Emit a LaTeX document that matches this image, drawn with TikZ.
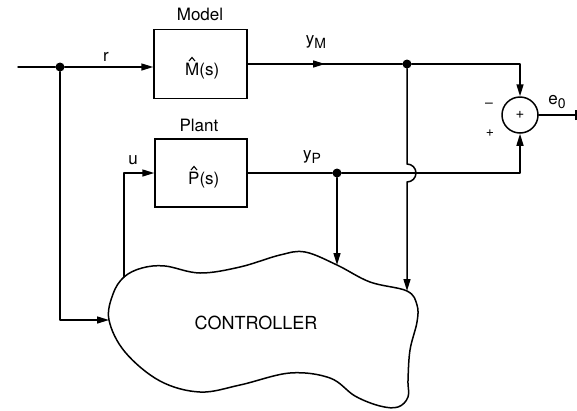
\documentclass[tikz,border=0pt]{standalone}
\usepackage{fontspec}
\setmainfont{TeX Gyre Heros}
\usetikzlibrary{arrows.meta,decorations.markings}
\newcommand{\sbs}[1]{\raisebox{-0.5ex}{\fontsize{14}{14}\selectfont #1}}
\tikzset{
  wire/.style={line width=1.5pt, line cap=round, line join=round},
  arr/.style={wire, -{Triangle[length=12pt,width=7pt]}},
  blockbox/.style={draw, line width=1.5pt, minimum width=93pt, minimum height=69pt, inner sep=0pt},
  junc/.style={circle, fill, inner sep=0pt, minimum size=9pt},
  sumnode/.style={circle, draw, line width=1.5pt, minimum size=36pt, inner sep=0pt, font=\fontsize{15}{15}\selectfont},
  lbl/.style={inner sep=0pt, font=\fontsize{17}{17}\selectfont},
  sgn/.style={inner sep=0pt, font=\fontsize{14}{14}\selectfont},
  caret/.style={line width=1.1pt, line join=miter},
  midarrow/.style={postaction={decorate, decoration={markings, mark=at position #1 with {\arrow{Triangle[length=12pt,width=7pt]}}}}}
}
\begin{document}
\begin{tikzpicture}[x=1pt,y=-1pt]
\useasboundingbox (0,0) rectangle (577,410);
% blocks
\node[blockbox] (model) at (200.5,64) {};
\node[lbl, anchor=base west] (mtxt) at (185,75) {M(s)};
\draw[caret] ([shift={(4,-14)}]mtxt.base west) -- ([shift={(7,-17.5)}]mtxt.base west) -- ([shift={(10,-14)}]mtxt.base west);
\node[lbl] (mlab) at (200,14) {Model};
\node[blockbox, minimum width=92pt, minimum height=68pt] (plant) at (201,173) {};
\node[lbl, anchor=base west] (ptxt) at (188,184) {P(s)};
\draw[caret] ([shift={(3,-14)}]ptxt.base west) -- ([shift={(6,-17.5)}]ptxt.base west) -- ([shift={(9,-14)}]ptxt.base west);
\node[lbl] (plab) at (199,125) {Plant};
\node[sumnode] (sum) at (520,115) {+};
% junctions and coordinates
\coordinate (in) at (18,67);
\node[junc] (j1) at (60,67) {};
\node[junc] (jM) at (407,64) {};
\node[junc] (jP) at (337,173) {};
\coordinate (ucorner) at (124,173);
\coordinate (cleft) at (109,320);
\coordinate (jleft) at (60,320);
\coordinate (ctopu) at (124,277);
\coordinate (ctopP) at (337,265);
\coordinate (ctopM) at (407,291);
\coordinate (hopa) at (407,164);
\coordinate (out) at (576,115);
% controller
\draw[wire] plot[smooth cycle, tension=0.6] coordinates {
 (109,320) (113,294) (124,277) (142,268) (165,266) (200,273) (240,267)
 (280,255) (305,252) (337,265) (370,282) (407,291) (417,305) (417,322)
 (410,350) (408,380) (408,397) (398,407) (380,406) (355,396) (330,378)
 (290,373) (240,385) (200,392) (160,381) (125,352)};
\node[font=\fontsize{18}{18}\selectfont] (ctrl) at (256,323) {CONTROLLER};
% wires
\draw[wire] (in) -- (j1);
\draw[arr] (j1) -- (j1 -| model.west);
\draw[arr] (j1) -- (jleft) -- (cleft);
\draw[wire, midarrow=0.5] (model.east) -- (jM);
\draw[arr] (jM) -| (sum.north);
\draw[arr] (plant.east) -- (jP) -| (sum.south);
\draw[arr] (ctopu) -- (ucorner) -- (plant.west);
\draw[arr] (jP) -- (ctopP);
\draw[arr] (jM) -- (hopa) arc[start angle=-90, end angle=90, radius=9] -- (ctopM);
\draw[wire] (sum.east) -- (out);
\draw[line width=1.2pt] ([yshift=-5pt]out) -- ([yshift=5pt]out);
% labels
\node[lbl] (rl) at (106,57) {r};
\node[lbl] (ul) at (133,160) {u};
\node[lbl] (yml) at (316,42) {y\sbs{M}};
\node[lbl] (ypl) at (312,157) {y\sbs{P}};
\node[lbl] (el) at (557,102) {e\sbs{0}};
\node[sgn] (minus) at (489,105) {–};
\node[sgn] (plus) at (490,133) {+};
\end{tikzpicture}
\end{document}
